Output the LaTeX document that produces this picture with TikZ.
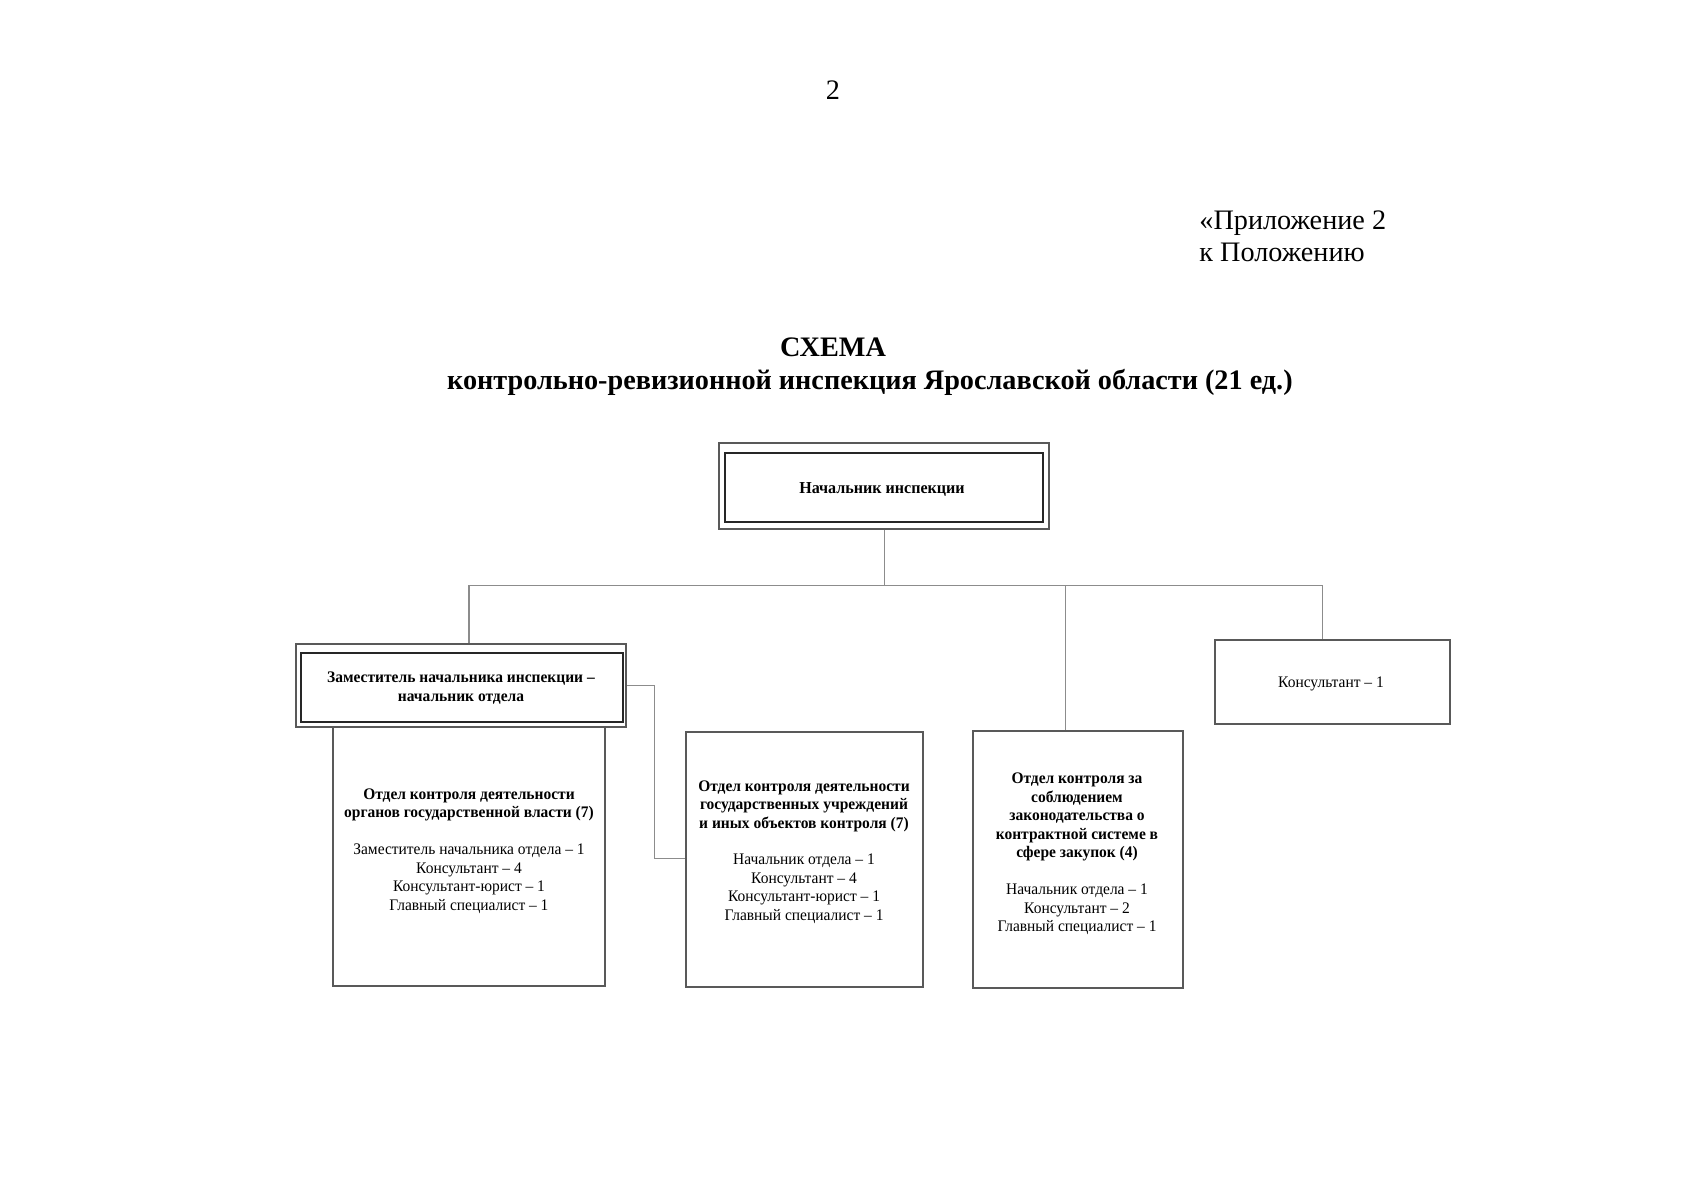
\documentclass[tikz,border=0pt]{standalone}
\usepackage{fontspec}
\setmainfont{Liberation Serif}
\newfontfamily\boxfont[FakeStretch=0.96]{Liberation Serif}
\usetikzlibrary{fit}
\begin{document}
\begin{tikzpicture}[x=0.4961pt,y=-0.4961pt,
  frame/.style={draw=black!65,line width=0.6pt,inner sep=0pt},
  innerframe/.style={draw=black!85,line width=0.7pt,inner sep=0pt},
  link/.style={draw=black!45,line width=0.5pt},
  boxtxt/.style={font=\boxfont\fontsize{8}{9.2}\selectfont,align=center,inner sep=0pt},
  headtxt/.style={font=\fontsize{14}{16}\selectfont,inner sep=0pt}]
\useasboundingbox (0,0) rectangle (1697,1200);
% header texts
\node[headtxt] (pnum) at (833,90) {2};
\node[headtxt,anchor=west,align=left] (appx) at (1199,236) {«Приложение 2\\к Положению};
\node[headtxt,font=\fontsize{14}{16}\selectfont\bfseries] (title) at (833,347) {СХЕМА};
\node[headtxt,font=\fontsize{14}{16}\selectfont\bfseries] (subtitle) at (870,382) {контрольно-ревизионной инспекция Ярославской области (21 ед.)};
% top box
\node[frame,fit={(719,443) (1049,529)}] (topO) {};
\node[innerframe,fit={(725,453) (1043,522)}] (topI) {};
\node[boxtxt,font=\boxfont\fontsize{8.3}{9.2}\selectfont\bfseries] (topT) at (882,489) {Начальник инспекции};
% deputy box
\node[frame,fit={(296,644) (626,727)}] (depO) {};
\node[innerframe,fit={(301,653) (623,722)}] (depI) {};
\node[boxtxt,font=\boxfont\fontsize{8}{9.6}\selectfont\bfseries] (depT) at (461,688) {Заместитель начальника инспекции –\\начальник отдела};
% department boxes
\node[frame,fit={(333,727) (605,986)}] (b1) {};
\node[boxtxt] (t1) at (469,851) {\textbf{Отдел контроля деятельности}\\\textbf{органов государственной власти (7)}\\[9pt]Заместитель начальника отдела – 1\\Консультант – 4\\Консультант-юрист – 1\\Главный специалист – 1};
\node[frame,fit={(686,732) (923,987)}] (b2) {};
\node[boxtxt] (t2) at (804,852) {\textbf{Отдел контроля деятельности}\\\textbf{государственных учреждений}\\\textbf{и иных объектов контроля (7)}\\[9pt]Начальник отдела – 1\\Консультант – 4\\Консультант-юрист – 1\\Главный специалист – 1};
\node[frame,fit={(973,731) (1183,988)}] (b3) {};
\node[boxtxt] (t3) at (1077,854) {\textbf{Отдел контроля за}\\\textbf{соблюдением}\\\textbf{законодательства о}\\\textbf{контрактной системе в}\\\textbf{сфере закупок (4)}\\[9pt]Начальник отдела – 1\\Консультант – 2\\Главный специалист – 1};
\node[frame,fit={(1215,640) (1450,724)}] (b4) {};
\node[boxtxt] (t4) at (1331,684) {Консультант – 1};
% connectors
\coordinate (hL) at (469,585);
\coordinate (hM) at (884,585);
\coordinate (h3) at (1065,585);
\coordinate (hR) at (1322,585);
\coordinate (elb) at (654,858);
\draw[link] (topO.south -| hM) -- (hM);
\draw[link] (hL) -- (hR);
\draw[link] (hL) -- (hL |- depO.north);
\draw[link] (h3) -- (h3 |- b3.north);
\draw[link] (hR) -- (hR |- b4.north);
\draw[link] (depO.east) -| (elb) -- (elb -| b2.west);
\end{tikzpicture}
\end{document}
